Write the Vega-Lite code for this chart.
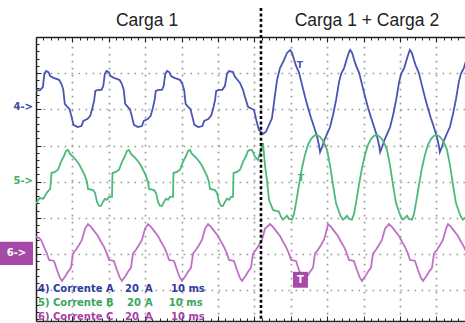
{
"$schema": "https://vega.github.io/schema/vega-lite/v6.json",
"width": 429, "height": 284,
"autosize": {"type": "none"},
"padding": {"left": 36, "top": 37, "right": 0, "bottom": 2},
"background": "white",
"config": {"view": {"stroke": null}},
"resolve": {"axis": {"x": "independent", "y": "independent"}, "scale": {"color": "independent"}},
"datasets": {
"traces": [
{"ch":"A","t":0,"v":1.49},{"ch":"A","t":1.2,"v":1.46},{"ch":"A","t":1.9,"v":1.38},
{"ch":"A","t":2.3,"v":1.02},{"ch":"A","t":2.8,"v":0.94},{"ch":"A","t":3.4,"v":0.97},{"ch":"A","t":3.9,"v":1.08},{"ch":"A","t":4.8,"v":1.13},{"ch":"A","t":5.6,"v":1.16},{"ch":"A","t":6.4,"v":1.19},{"ch":"A","t":7.0,"v":1.30},{"ch":"A","t":7.5,"v":1.46},{"ch":"A","t":7.9,"v":1.85},{"ch":"A","t":8.6,"v":1.93},{"ch":"A","t":9.2,"v":1.99},{"ch":"A","t":9.7,"v":2.18},{"ch":"A","t":10.3,"v":2.43},{"ch":"A","t":11.4,"v":2.49},{"ch":"A","t":12.5,"v":2.46},{"ch":"A","t":13.0,"v":2.32},{"ch":"A","t":14.1,"v":2.27},{"ch":"A","t":14.9,"v":2.18},{"ch":"A","t":15.5,"v":1.96},{"ch":"A","t":16.0,"v":1.74},{"ch":"A","t":16.3,"v":1.49},{"ch":"A","t":17.1,"v":1.46},{"ch":"A","t":18.0,"v":1.46},{"ch":"A","t":18.5,"v":1.35},
{"ch":"A","t":18.9,"v":1.02},{"ch":"A","t":19.4,"v":0.94},{"ch":"A","t":20.0,"v":0.97},{"ch":"A","t":20.5,"v":1.08},{"ch":"A","t":21.4,"v":1.13},{"ch":"A","t":22.2,"v":1.16},{"ch":"A","t":23.0,"v":1.19},{"ch":"A","t":23.6,"v":1.30},{"ch":"A","t":24.1,"v":1.46},{"ch":"A","t":24.5,"v":1.85},{"ch":"A","t":25.2,"v":1.93},{"ch":"A","t":25.8,"v":1.99},{"ch":"A","t":26.3,"v":2.18},{"ch":"A","t":26.9,"v":2.43},{"ch":"A","t":28.0,"v":2.49},{"ch":"A","t":29.1,"v":2.46},{"ch":"A","t":29.6,"v":2.32},{"ch":"A","t":30.7,"v":2.27},{"ch":"A","t":31.5,"v":2.18},{"ch":"A","t":32.1,"v":1.96},{"ch":"A","t":32.6,"v":1.74},{"ch":"A","t":32.9,"v":1.49},{"ch":"A","t":33.7,"v":1.46},{"ch":"A","t":34.6,"v":1.46},{"ch":"A","t":35.1,"v":1.35},
{"ch":"A","t":35.5,"v":1.02},{"ch":"A","t":36.0,"v":0.94},{"ch":"A","t":36.6,"v":0.97},{"ch":"A","t":37.1,"v":1.08},{"ch":"A","t":38.0,"v":1.13},{"ch":"A","t":38.8,"v":1.16},{"ch":"A","t":39.6,"v":1.19},{"ch":"A","t":40.2,"v":1.30},{"ch":"A","t":40.7,"v":1.46},{"ch":"A","t":41.1,"v":1.85},{"ch":"A","t":41.8,"v":1.93},{"ch":"A","t":42.4,"v":1.99},{"ch":"A","t":42.9,"v":2.18},{"ch":"A","t":43.5,"v":2.43},{"ch":"A","t":44.6,"v":2.49},{"ch":"A","t":45.7,"v":2.46},{"ch":"A","t":46.2,"v":2.32},{"ch":"A","t":47.3,"v":2.27},{"ch":"A","t":48.1,"v":2.18},{"ch":"A","t":48.7,"v":1.96},{"ch":"A","t":49.2,"v":1.74},{"ch":"A","t":49.5,"v":1.49},{"ch":"A","t":50.3,"v":1.46},{"ch":"A","t":51.2,"v":1.46},{"ch":"A","t":51.9,"v":1.35},
{"ch":"A","t":52.47,"v":1.02},{"ch":"A","t":53.02,"v":0.94},{"ch":"A","t":54.12,"v":0.97},{"ch":"A","t":54.67,"v":1.10},{"ch":"A","t":56.04,"v":1.27},{"ch":"A","t":56.86,"v":1.46},{"ch":"A","t":57.41,"v":1.66},{"ch":"A","t":58.24,"v":1.93},{"ch":"A","t":59.89,"v":2.02},{"ch":"A","t":60.71,"v":2.38},{"ch":"A","t":61.26,"v":2.57},{"ch":"A","t":62.36,"v":2.68},{"ch":"A","t":63.18,"v":2.62},{"ch":"A","t":64.01,"v":2.43},{"ch":"A","t":64.83,"v":2.24},{"ch":"A","t":65.66,"v":1.60},{"ch":"A","t":66.21,"v":1.19},{"ch":"A","t":67.03,"v":0.86},{"ch":"A","t":68.13,"v":0.64},{"ch":"A","t":68.95,"v":0.44},
{"ch":"A","t":69.8,"v":0.36},{"ch":"A","t":70.35,"v":0.44},{"ch":"A","t":70.9,"v":0.63},{"ch":"A","t":71.45,"v":0.8},{"ch":"A","t":72.27,"v":0.99},{"ch":"A","t":73.1,"v":1.33},{"ch":"A","t":73.92,"v":1.66},{"ch":"A","t":74.74,"v":1.96},{"ch":"A","t":75.57,"v":2.24},{"ch":"A","t":76.39,"v":2.49},{"ch":"A","t":77.22,"v":2.76},{"ch":"A","t":77.77,"v":3.01},{"ch":"A","t":78.04,"v":3.18},{"ch":"A","t":78.59,"v":3.04},{"ch":"A","t":79.14,"v":2.87},{"ch":"A","t":79.96,"v":2.68},{"ch":"A","t":80.79,"v":2.49},{"ch":"A","t":81.61,"v":2.15},{"ch":"A","t":82.44,"v":1.74},{"ch":"A","t":83.26,"v":1.24},{"ch":"A","t":83.81,"v":1.02},{"ch":"A","t":84.63,"v":0.86},{"ch":"A","t":85.46,"v":0.58},{"ch":"A","t":86.01,"v":0.41},
{"ch":"A","t":86.3,"v":0.36},{"ch":"A","t":86.85,"v":0.44},{"ch":"A","t":87.4,"v":0.63},{"ch":"A","t":87.95,"v":0.8},{"ch":"A","t":88.77,"v":0.99},{"ch":"A","t":89.6,"v":1.33},{"ch":"A","t":90.42,"v":1.66},{"ch":"A","t":91.24,"v":1.96},{"ch":"A","t":92.07,"v":2.24},{"ch":"A","t":92.89,"v":2.49},{"ch":"A","t":93.72,"v":2.76},{"ch":"A","t":94.27,"v":3.01},{"ch":"A","t":94.54,"v":3.18},{"ch":"A","t":95.09,"v":3.04},{"ch":"A","t":95.64,"v":2.87},{"ch":"A","t":96.46,"v":2.68},{"ch":"A","t":97.29,"v":2.49},{"ch":"A","t":98.11,"v":2.15},{"ch":"A","t":98.94,"v":1.74},{"ch":"A","t":99.76,"v":1.24},{"ch":"A","t":100.31,"v":1.02},{"ch":"A","t":101.13,"v":0.86},{"ch":"A","t":101.96,"v":0.58},{"ch":"A","t":102.51,"v":0.41},
{"ch":"A","t":102.7,"v":0.36},{"ch":"A","t":103.25,"v":0.44},{"ch":"A","t":103.8,"v":0.63},{"ch":"A","t":104.35,"v":0.8},{"ch":"A","t":105.17,"v":0.99},{"ch":"A","t":106.0,"v":1.33},{"ch":"A","t":106.82,"v":1.66},{"ch":"A","t":107.64,"v":1.96},{"ch":"A","t":108.47,"v":2.24},{"ch":"A","t":109.29,"v":2.49},{"ch":"A","t":110.12,"v":2.76},{"ch":"A","t":110.67,"v":3.01},{"ch":"A","t":110.94,"v":3.18},{"ch":"A","t":111.49,"v":3.04},{"ch":"A","t":112.04,"v":2.87},{"ch":"A","t":112.86,"v":2.68},{"ch":"A","t":113.69,"v":2.49},{"ch":"A","t":114.51,"v":2.15},{"ch":"A","t":115.34,"v":1.74},{"ch":"A","t":116.16,"v":1.24},{"ch":"A","t":116.71,"v":1.02},{"ch":"A","t":117.53,"v":0.86},{"ch":"A","t":118.36,"v":0.58},

{"ch":"B","t":0,"v":4.6},{"ch":"B","t":1.0,"v":4.45},{"ch":"B","t":2.0,"v":4.47},{"ch":"B","t":3.0,"v":4.3},{"ch":"B","t":3.9,"v":4.2},
{"ch":"B","t":4.26,"v":3.76},{"ch":"B","t":5.22,"v":3.73},{"ch":"B","t":6.04,"v":3.67},{"ch":"B","t":6.87,"v":3.45},{"ch":"B","t":7.69,"v":3.29},{"ch":"B","t":8.24,"v":3.15},{"ch":"B","t":8.79,"v":3.12},{"ch":"B","t":9.34,"v":3.23},{"ch":"B","t":10.16,"v":3.31},{"ch":"B","t":10.99,"v":3.4},{"ch":"B","t":11.81,"v":3.51},{"ch":"B","t":12.64,"v":3.67},{"ch":"B","t":13.46,"v":3.84},{"ch":"B","t":14.01,"v":4.01},{"ch":"B","t":14.28,"v":4.2},{"ch":"B","t":15.66,"v":4.23},{"ch":"B","t":16.21,"v":4.31},{"ch":"B","t":16.76,"v":4.56},{"ch":"B","t":17.31,"v":4.67},{"ch":"B","t":17.86,"v":4.67},{"ch":"B","t":18.4,"v":4.56},{"ch":"B","t":18.95,"v":4.47},{"ch":"B","t":19.5,"v":4.5},{"ch":"B","t":20.05,"v":4.42},
{"ch":"B","t":20.88,"v":4.42},{"ch":"B","t":21.02,"v":3.76},{"ch":"B","t":21.98,"v":3.73},{"ch":"B","t":22.8,"v":3.67},{"ch":"B","t":23.63,"v":3.45},{"ch":"B","t":24.45,"v":3.29},{"ch":"B","t":25.0,"v":3.15},{"ch":"B","t":25.55,"v":3.12},{"ch":"B","t":26.1,"v":3.23},{"ch":"B","t":26.92,"v":3.31},{"ch":"B","t":27.75,"v":3.4},{"ch":"B","t":28.57,"v":3.51},{"ch":"B","t":29.4,"v":3.67},{"ch":"B","t":30.22,"v":3.84},{"ch":"B","t":30.77,"v":4.01},{"ch":"B","t":31.04,"v":4.2},{"ch":"B","t":32.42,"v":4.23},{"ch":"B","t":32.97,"v":4.31},{"ch":"B","t":33.52,"v":4.56},{"ch":"B","t":34.07,"v":4.67},{"ch":"B","t":34.62,"v":4.67},{"ch":"B","t":35.16,"v":4.56},{"ch":"B","t":35.71,"v":4.47},{"ch":"B","t":36.26,"v":4.5},{"ch":"B","t":36.81,"v":4.42},
{"ch":"B","t":37.63,"v":4.42},{"ch":"B","t":37.77,"v":3.76},{"ch":"B","t":38.73,"v":3.73},{"ch":"B","t":39.55,"v":3.67},{"ch":"B","t":40.38,"v":3.45},{"ch":"B","t":41.2,"v":3.29},{"ch":"B","t":41.75,"v":3.15},{"ch":"B","t":42.3,"v":3.12},{"ch":"B","t":42.85,"v":3.23},{"ch":"B","t":43.67,"v":3.31},{"ch":"B","t":44.5,"v":3.4},{"ch":"B","t":45.32,"v":3.51},{"ch":"B","t":46.15,"v":3.67},{"ch":"B","t":46.97,"v":3.84},{"ch":"B","t":47.52,"v":4.01},{"ch":"B","t":47.79,"v":4.2},{"ch":"B","t":49.17,"v":4.23},{"ch":"B","t":49.72,"v":4.31},{"ch":"B","t":50.27,"v":4.56},{"ch":"B","t":50.82,"v":4.67},{"ch":"B","t":51.37,"v":4.67},{"ch":"B","t":51.91,"v":4.56},{"ch":"B","t":52.46,"v":4.47},{"ch":"B","t":53.01,"v":4.5},{"ch":"B","t":53.56,"v":4.42},
{"ch":"B","t":54.12,"v":4.42},{"ch":"B","t":54.26,"v":3.76},{"ch":"B","t":55.22,"v":3.73},{"ch":"B","t":56.04,"v":3.67},{"ch":"B","t":56.87,"v":3.45},{"ch":"B","t":57.69,"v":3.29},{"ch":"B","t":58.24,"v":3.15},{"ch":"B","t":58.79,"v":3.12},
{"ch":"B","t":59.34,"v":3.12},{"ch":"B","t":60.16,"v":3.31},{"ch":"B","t":60.98,"v":3.4},{"ch":"B","t":61.53,"v":3.2},{"ch":"B","t":62.36,"v":2.93},{"ch":"B","t":62.9,"v":3.54},{"ch":"B","t":63.45,"v":3.95},{"ch":"B","t":64.0,"v":4.5},{"ch":"B","t":65.1,"v":4.78},
{"ch":"B","t":66.75,"v":4.83},{"ch":"B","t":67.3,"v":4.97},{"ch":"B","t":67.85,"v":5.05},{"ch":"B","t":68.4,"v":5.0},{"ch":"B","t":68.95,"v":4.94},{"ch":"B","t":69.5,"v":5.03},{"ch":"B","t":70.32,"v":5.05},{"ch":"B","t":70.87,"v":4.89},{"ch":"B","t":71.42,"v":4.59},{"ch":"B","t":72.25,"v":4.09},{"ch":"B","t":73.07,"v":3.62},{"ch":"B","t":73.89,"v":3.26},{"ch":"B","t":74.72,"v":2.98},{"ch":"B","t":75.54,"v":2.82},{"ch":"B","t":76.37,"v":2.73},{"ch":"B","t":77.19,"v":2.71},{"ch":"B","t":78.02,"v":2.76},{"ch":"B","t":78.84,"v":2.87},{"ch":"B","t":79.39,"v":2.98},{"ch":"B","t":79.94,"v":3.12},{"ch":"B","t":80.76,"v":3.54},{"ch":"B","t":81.59,"v":4.09},{"ch":"B","t":82.41,"v":4.59},
{"ch":"B","t":83.23,"v":4.83},{"ch":"B","t":83.78,"v":4.97},{"ch":"B","t":84.33,"v":5.05},{"ch":"B","t":84.88,"v":5.0},{"ch":"B","t":85.43,"v":4.94},{"ch":"B","t":85.98,"v":5.03},{"ch":"B","t":86.8,"v":5.05},{"ch":"B","t":87.35,"v":4.89},{"ch":"B","t":87.9,"v":4.59},{"ch":"B","t":88.73,"v":4.09},{"ch":"B","t":89.55,"v":3.62},{"ch":"B","t":90.37,"v":3.26},{"ch":"B","t":91.2,"v":2.98},{"ch":"B","t":92.02,"v":2.82},{"ch":"B","t":92.85,"v":2.73},{"ch":"B","t":93.67,"v":2.71},{"ch":"B","t":94.5,"v":2.76},{"ch":"B","t":95.32,"v":2.87},{"ch":"B","t":95.87,"v":2.98},{"ch":"B","t":96.42,"v":3.12},{"ch":"B","t":97.24,"v":3.54},{"ch":"B","t":98.07,"v":4.09},{"ch":"B","t":98.89,"v":4.59},
{"ch":"B","t":99.71,"v":4.83},{"ch":"B","t":100.26,"v":4.97},{"ch":"B","t":100.81,"v":5.05},{"ch":"B","t":101.36,"v":5.0},{"ch":"B","t":101.91,"v":4.94},{"ch":"B","t":102.46,"v":5.03},{"ch":"B","t":103.28,"v":5.05},{"ch":"B","t":103.83,"v":4.89},{"ch":"B","t":104.38,"v":4.59},{"ch":"B","t":105.21,"v":4.09},{"ch":"B","t":106.03,"v":3.62},{"ch":"B","t":106.85,"v":3.26},{"ch":"B","t":107.68,"v":2.98},{"ch":"B","t":108.5,"v":2.82},{"ch":"B","t":109.33,"v":2.73},{"ch":"B","t":110.15,"v":2.71},{"ch":"B","t":110.98,"v":2.76},{"ch":"B","t":111.8,"v":2.87},{"ch":"B","t":112.35,"v":2.98},{"ch":"B","t":112.9,"v":3.12},{"ch":"B","t":113.72,"v":3.54},{"ch":"B","t":114.55,"v":4.09},{"ch":"B","t":115.37,"v":4.59},
{"ch":"B","t":116.19,"v":4.83},{"ch":"B","t":116.74,"v":4.97},{"ch":"B","t":117.29,"v":5.05},{"ch":"B","t":117.84,"v":5.0},{"ch":"B","t":118.39,"v":4.94},

{"ch":"C","t":0,"v":5.52},{"ch":"C","t":0.8,"v":5.55},{"ch":"C","t":1.4,"v":5.61},{"ch":"C","t":2.2,"v":5.8},{"ch":"C","t":3.02,"v":5.99},{"ch":"C","t":3.57,"v":6.16},{"ch":"C","t":4.94,"v":6.19},{"ch":"C","t":5.77,"v":6.44},{"ch":"C","t":6.59,"v":6.66},{"ch":"C","t":7.14,"v":6.74},{"ch":"C","t":7.96,"v":6.63},{"ch":"C","t":8.79,"v":6.49},{"ch":"C","t":9.61,"v":6.38},{"ch":"C","t":10.16,"v":5.99},{"ch":"C","t":10.99,"v":5.88},{"ch":"C","t":11.81,"v":5.75},{"ch":"C","t":12.63,"v":5.61},{"ch":"C","t":13.46,"v":5.3},
{"ch":"C","t":14.28,"v":5.17},{"ch":"C","t":15.1,"v":5.25},{"ch":"C","t":15.93,"v":5.36},{"ch":"C","t":17.03,"v":5.5},{"ch":"C","t":17.85,"v":5.66},{"ch":"C","t":18.68,"v":5.8},{"ch":"C","t":19.5,"v":5.99},{"ch":"C","t":20.05,"v":6.16},{"ch":"C","t":21.42,"v":6.19},{"ch":"C","t":22.25,"v":6.44},{"ch":"C","t":23.07,"v":6.66},{"ch":"C","t":23.62,"v":6.74},{"ch":"C","t":24.44,"v":6.63},{"ch":"C","t":25.27,"v":6.49},{"ch":"C","t":26.09,"v":6.38},{"ch":"C","t":26.64,"v":5.99},{"ch":"C","t":27.47,"v":5.88},{"ch":"C","t":28.29,"v":5.75},{"ch":"C","t":29.11,"v":5.61},{"ch":"C","t":29.94,"v":5.3},
{"ch":"C","t":30.77,"v":5.17},{"ch":"C","t":31.59,"v":5.25},{"ch":"C","t":32.42,"v":5.36},{"ch":"C","t":33.52,"v":5.5},{"ch":"C","t":34.34,"v":5.66},{"ch":"C","t":35.17,"v":5.8},{"ch":"C","t":35.99,"v":5.99},{"ch":"C","t":36.54,"v":6.16},{"ch":"C","t":37.91,"v":6.19},{"ch":"C","t":38.74,"v":6.44},{"ch":"C","t":39.56,"v":6.66},{"ch":"C","t":40.11,"v":6.74},{"ch":"C","t":40.93,"v":6.63},{"ch":"C","t":41.76,"v":6.49},{"ch":"C","t":42.58,"v":6.38},{"ch":"C","t":43.13,"v":5.99},{"ch":"C","t":43.96,"v":5.88},{"ch":"C","t":44.78,"v":5.75},{"ch":"C","t":45.6,"v":5.61},{"ch":"C","t":46.43,"v":5.3},
{"ch":"C","t":47.25,"v":5.17},{"ch":"C","t":48.07,"v":5.25},{"ch":"C","t":48.9,"v":5.36},{"ch":"C","t":50.0,"v":5.5},{"ch":"C","t":50.82,"v":5.66},{"ch":"C","t":51.65,"v":5.8},{"ch":"C","t":52.47,"v":5.99},{"ch":"C","t":53.02,"v":6.16},{"ch":"C","t":54.39,"v":6.19},{"ch":"C","t":55.22,"v":6.44},{"ch":"C","t":56.04,"v":6.66},{"ch":"C","t":56.59,"v":6.74},{"ch":"C","t":57.41,"v":6.63},{"ch":"C","t":58.24,"v":6.49},{"ch":"C","t":59.06,"v":6.38},{"ch":"C","t":59.61,"v":5.99},{"ch":"C","t":60.44,"v":5.88},{"ch":"C","t":61.26,"v":5.75},{"ch":"C","t":62.08,"v":5.61},{"ch":"C","t":62.91,"v":5.3},
{"ch":"C","t":64.28,"v":5.17},{"ch":"C","t":65.1,"v":5.25},{"ch":"C","t":65.93,"v":5.36},{"ch":"C","t":67.03,"v":5.5},{"ch":"C","t":67.85,"v":5.66},{"ch":"C","t":68.68,"v":5.8},{"ch":"C","t":69.5,"v":5.99},{"ch":"C","t":70.05,"v":6.16},{"ch":"C","t":71.42,"v":6.19},{"ch":"C","t":72.25,"v":6.44},{"ch":"C","t":73.07,"v":6.66},{"ch":"C","t":73.62,"v":6.74},{"ch":"C","t":74.44,"v":6.63},{"ch":"C","t":75.27,"v":6.49},{"ch":"C","t":76.09,"v":6.38},{"ch":"C","t":76.64,"v":5.99},{"ch":"C","t":77.47,"v":5.88},{"ch":"C","t":78.29,"v":5.75},{"ch":"C","t":79.11,"v":5.61},{"ch":"C","t":79.94,"v":5.3},
{"ch":"C","t":80.21,"v":5.17},{"ch":"C","t":81.03,"v":5.25},{"ch":"C","t":81.86,"v":5.36},{"ch":"C","t":82.96,"v":5.5},{"ch":"C","t":83.78,"v":5.66},{"ch":"C","t":84.61,"v":5.8},{"ch":"C","t":85.43,"v":5.99},{"ch":"C","t":85.98,"v":6.16},{"ch":"C","t":87.35,"v":6.19},{"ch":"C","t":88.18,"v":6.44},{"ch":"C","t":89.0,"v":6.66},{"ch":"C","t":89.55,"v":6.74},{"ch":"C","t":90.37,"v":6.63},{"ch":"C","t":91.2,"v":6.49},{"ch":"C","t":92.02,"v":6.38},{"ch":"C","t":92.57,"v":5.99},{"ch":"C","t":93.4,"v":5.88},{"ch":"C","t":94.22,"v":5.75},{"ch":"C","t":95.04,"v":5.61},{"ch":"C","t":95.87,"v":5.3},
{"ch":"C","t":96.97,"v":5.17},{"ch":"C","t":97.79,"v":5.25},{"ch":"C","t":98.62,"v":5.36},{"ch":"C","t":99.72,"v":5.5},{"ch":"C","t":100.54,"v":5.66},{"ch":"C","t":101.37,"v":5.8},{"ch":"C","t":102.19,"v":5.99},{"ch":"C","t":102.74,"v":6.16},{"ch":"C","t":104.11,"v":6.19},{"ch":"C","t":104.94,"v":6.44},{"ch":"C","t":105.76,"v":6.66},{"ch":"C","t":106.31,"v":6.74},{"ch":"C","t":107.13,"v":6.63},{"ch":"C","t":107.96,"v":6.49},{"ch":"C","t":108.78,"v":6.38},{"ch":"C","t":109.33,"v":5.99},{"ch":"C","t":110.16,"v":5.88},{"ch":"C","t":110.98,"v":5.75},{"ch":"C","t":111.8,"v":5.61},{"ch":"C","t":112.63,"v":5.3},
{"ch":"C","t":113.18,"v":5.17},{"ch":"C","t":114.0,"v":5.25},{"ch":"C","t":114.83,"v":5.36},{"ch":"C","t":115.93,"v":5.5},{"ch":"C","t":116.75,"v":5.66},{"ch":"C","t":117.58,"v":5.8},{"ch":"C","t":118.4,"v":5.99}
],
"divider": [{"t": 61.8, "top": -0.8, "bottom": 7.85}],
"titles": [{"t": 30.5, "v": -0.44, "text": "Carga 1"}, {"t": 90.9, "v": -0.44, "text": "Carga 1 + Carga 2"}],
"legend": [
{"ch":"A","t":0.55,"v":6.96,"text":"4) Corrente A"},{"ch":"A","t":24.45,"v":6.96,"text":"20"},{"ch":"A","t":29.94,"v":6.96,"text":"A"},{"ch":"A","t":37.08,"v":6.96,"text":"10 ms"},
{"ch":"B","t":0.55,"v":7.35,"text":"5) Corrente B"},{"ch":"B","t":25.0,"v":7.35,"text":"20"},{"ch":"B","t":29.94,"v":7.35,"text":"A"},{"ch":"B","t":36.5,"v":7.35,"text":"10 ms"},
{"ch":"C","t":0.55,"v":7.73,"text":"6) Corrente C"},{"ch":"C","t":24.45,"v":7.73,"text":"20"},{"ch":"C","t":29.94,"v":7.73,"text":"A"},{"ch":"C","t":37.08,"v":7.73,"text":"10 ms"}
],
"markers": [{"ch":"A","t":-0.82,"v":1.93,"text":"4->"},{"ch":"B","t":-0.82,"v":3.98,"text":"5->"}],
"tmarks": [{"ch":"A","t":72.5,"v":0.77,"text":"T"},{"ch":"B","t":72.8,"v":3.89,"text":"T"}],
"boxes": [{"t":-9.9,"t2":-0.82,"v":5.66,"v2":6.30,"text":"6->","tx":-5.36,"vc":5.98},{"t":70.6,"t2":74.7,"v":6.49,"v2":6.93,"text":"T","tx":72.65,"vc":6.72}]
},
"layer": [
{
"data": {"name": "traces"},
"mark": {"type": "line", "strokeWidth": 1.8, "clip": true},
"encoding": {
"x": {"field": "t", "type": "quantitative", "scale": {"domain": [0, 117.85], "nice": false, "zero": false},
 "axis": {"orient": "bottom", "title": null, "labels": false,
  "values": [0,2,4,6,8,10,12,14,16,18,20,22,24,26,28,30,32,34,36,38,40,42,44,46,48,50,52,54,56,58,60,62,64,66,68,70,72,74,76,78,80,82,84,86,88,90,92,94,96,98,100,102,104,106,108,110,112,114,116],
  "domainColor": "#222", "domainWidth": 1.5, "tickColor": "#222", "tickWidth": 1,
  "tickSize": {"condition": {"test": "datum.value % 10 === 0", "value": -5}, "value": -3},
  "grid": true, "gridColor": "#9c9c9c", "gridWidth": 1.7, "gridDash": [1.7, 5.3],
  "gridOpacity": {"condition": {"test": "datum.value % 10 === 0 && datum.value > 0", "value": 1}, "value": 0}}},
"y": {"field": "v", "type": "quantitative", "scale": {"domain": [0, 7.85], "reverse": true, "nice": false, "zero": false},
 "axis": {"orient": "left", "title": null, "labels": false,
  "values": [0,0.2,0.4,0.6,0.8,1,1.2,1.4,1.6,1.8,2,2.2,2.4,2.6,2.8,3,3.2,3.4,3.6,3.8,4,4.2,4.4,4.6,4.8,5,5.2,5.4,5.6,5.8,6,6.2,6.4,6.6,6.8,7,7.2,7.4,7.6,7.8],
  "domainColor": "#222", "domainWidth": 1.5, "tickColor": "#222", "tickWidth": 1,
  "tickSize": {"condition": {"test": "abs(datum.value - round(datum.value)) < 0.01", "value": -5}, "value": -3},
  "grid": true, "gridColor": "#9c9c9c", "gridWidth": 1.7, "gridDash": [1.7, 5.3],
  "gridOpacity": {"condition": {"test": "abs(datum.value - round(datum.value)) < 0.01 && datum.value > 0.5", "value": 1}, "value": 0}}},
"color": {"field": "ch", "type": "nominal", "scale": {"domain": ["A", "B", "C"], "range": ["#4a54b2", "#4cba7a", "#c070c6"]}, "legend": null}
}
},
{
"data": {"name": "divider"},
"mark": {"type": "rule", "color": "#000", "strokeWidth": 2.6, "strokeDash": [3, 2.4]},
"encoding": {
"x": {"field": "t", "type": "quantitative", "scale": {"domain": [0, 117.85], "nice": false, "zero": false},
 "axis": {"orient": "top", "title": null, "labels": false, "grid": false,
  "values": [0,2,4,6,8,10,12,14,16,18,20,22,24,26,28,30,32,34,36,38,40,42,44,46,48,50,52,54,56,58,60,62,64,66,68,70,72,74,76,78,80,82,84,86,88,90,92,94,96,98,100,102,104,106,108,110,112,114,116],
  "domainColor": "#222", "domainWidth": 1.5, "tickColor": "#222", "tickWidth": 1,
  "tickSize": {"condition": {"test": "datum.value % 10 === 0", "value": -5}, "value": -3}}},
"y": {"field": "top", "type": "quantitative", "scale": {"domain": [0, 7.85], "reverse": true, "nice": false, "zero": false}, "axis": null},
"y2": {"field": "bottom"}
}
},
{
"data": {"name": "titles"},
"mark": {"type": "text", "font": "Liberation Sans", "fontSize": 17.5, "color": "#222", "align": "center", "baseline": "middle"},
"encoding": {
"x": {"field": "t", "type": "quantitative", "scale": {"domain": [0, 117.85], "nice": false, "zero": false}, "axis": null},
"y": {"field": "v", "type": "quantitative", "scale": {"domain": [0, 7.85], "reverse": true, "nice": false, "zero": false}, "axis": null},
"text": {"field": "text"}
}
},
{
"data": {"name": "legend"},
"mark": {"type": "text", "font": "DejaVu Sans", "fontWeight": "bold", "fontSize": 10, "align": "left", "baseline": "middle"},
"encoding": {
"x": {"field": "t", "type": "quantitative", "scale": {"domain": [0, 117.85], "nice": false, "zero": false}, "axis": null},
"y": {"field": "v", "type": "quantitative", "scale": {"domain": [0, 7.85], "reverse": true, "nice": false, "zero": false}, "axis": null},
"text": {"field": "text"},
"color": {"field": "ch", "type": "nominal", "scale": {"domain": ["A", "B", "C"], "range": ["#2f3b9f", "#35a85b", "#a544a5"]}, "legend": null}
}
},
{
"data": {"name": "markers"},
"mark": {"type": "text", "font": "DejaVu Sans", "fontWeight": "bold", "fontSize": 10, "align": "right", "baseline": "middle"},
"encoding": {
"x": {"field": "t", "type": "quantitative", "scale": {"domain": [0, 117.85], "nice": false, "zero": false}, "axis": null},
"y": {"field": "v", "type": "quantitative", "scale": {"domain": [0, 7.85], "reverse": true, "nice": false, "zero": false}, "axis": null},
"text": {"field": "text"},
"color": {"field": "ch", "type": "nominal", "scale": {"domain": ["A", "B", "C"], "range": ["#3c48ac", "#3fb065", "#a544a5"]}, "legend": null}
}
},
{
"data": {"name": "tmarks"},
"mark": {"type": "text", "font": "DejaVu Sans", "fontWeight": "bold", "fontSize": 9, "align": "center", "baseline": "middle"},
"encoding": {
"x": {"field": "t", "type": "quantitative", "scale": {"domain": [0, 117.85], "nice": false, "zero": false}, "axis": null},
"y": {"field": "v", "type": "quantitative", "scale": {"domain": [0, 7.85], "reverse": true, "nice": false, "zero": false}, "axis": null},
"text": {"field": "text"},
"color": {"field": "ch", "type": "nominal", "scale": {"domain": ["A", "B", "C"], "range": ["#4a54b2", "#3fb065", "#a544a5"]}, "legend": null}
}
},
{
"data": {"name": "boxes"},
"mark": {"type": "rect", "color": "#a64aa8"},
"encoding": {
"x": {"field": "t", "type": "quantitative", "scale": {"domain": [0, 117.85], "nice": false, "zero": false}, "axis": null},
"x2": {"field": "t2"},
"y": {"field": "v", "type": "quantitative", "scale": {"domain": [0, 7.85], "reverse": true, "nice": false, "zero": false}, "axis": null},
"y2": {"field": "v2"}
}
},
{
"data": {"name": "boxes"},
"mark": {"type": "text", "font": "DejaVu Sans", "fontWeight": "bold", "fontSize": 10, "color": "white", "align": "center", "baseline": "middle"},
"encoding": {
"x": {"field": "tx", "type": "quantitative", "scale": {"domain": [0, 117.85], "nice": false, "zero": false}, "axis": null},
"y": {"field": "vc", "type": "quantitative", "scale": {"domain": [0, 7.85], "reverse": true, "nice": false, "zero": false}, "axis": null},
"text": {"field": "text"}
}
}
]
}
